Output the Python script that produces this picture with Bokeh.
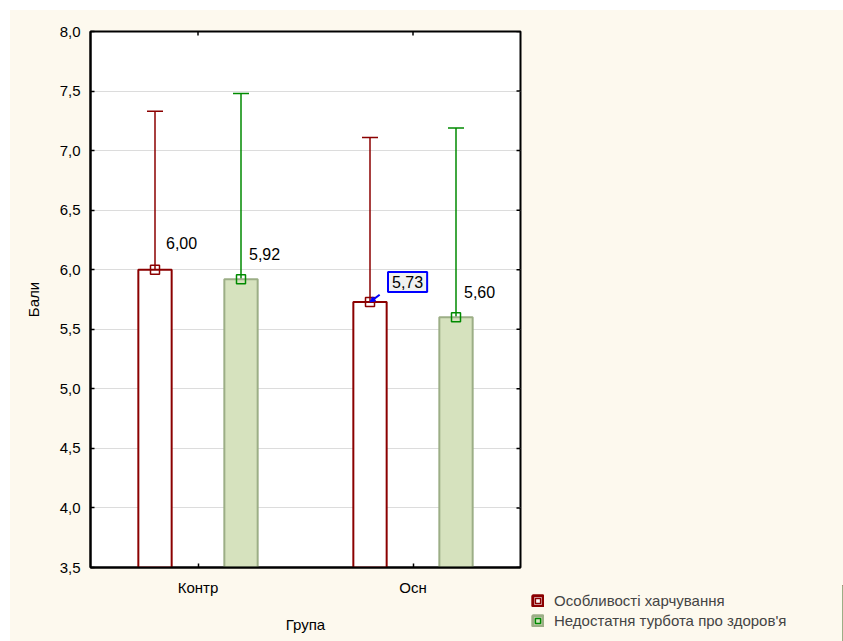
from bokeh.plotting import figure
from bokeh.layouts import row, column
from bokeh.models import (FactorRange, Range1d, FixedTicker, Spacer,
                          Whisker, TeeHead, ColumnDataSource, Legend, LegendItem, Label,
                          Arrow, NormalHead)
from bokeh.transform import dodge
from bokeh.core.properties import value
from bokeh.embed import file_html
from bokeh.resources import INLINE

# ---- data ----
groups = ["Контр", "Осн"]
series_names = ["Особливості харчування", "Недостатня турбота про здоров'я"]
mean_harch = [6.00, 5.73]
upper_harch = [7.33, 7.11]
lower_harch = [4.67, 4.35]
mean_turb = [5.92, 5.60]
upper_turb = [7.48, 7.19]
lower_turb = [4.35, 4.02]
y_ticks = [3.5, 4.0, 4.5, 5.0, 5.5, 6.0, 6.5, 7.0, 7.5, 8.0]
y_tick_labels = ["3,5", "4,0", "4,5", "5,0", "5,5", "6,0", "6,5", "7,0", "7,5", "8,0"]
x_title = "Група"
y_title = "Бали"

RED = "#8B0000"
GREEN = "#008A00"
GFILL = "#D6E2BE"
GEDGE = "#9CAE86"
CREAM = "#FDF9EE"
FONT = "Liberation Sans"

def fmt(v):
    return f"{v:.2f}".replace(".", ",")

src = ColumnDataSource(dict(
    group=groups,
    mean_h=mean_harch, up_h=upper_harch, lo_h=lower_harch,
    mean_t=mean_turb, up_t=upper_turb, lo_t=lower_turb,
    lab_h=[fmt(v) for v in mean_harch], lab_t=[fmt(v) for v in mean_turb],
))

p = figure(x_range=FactorRange(*groups, range_padding=0), y_range=Range1d(y_ticks[0], y_ticks[-1]),
           width=518, height=631, output_backend="svg", toolbar_location=None,
           min_border_left=80, min_border_right=8, min_border_top=21, min_border_bottom=74,
           background_fill_color="white", border_fill_color=CREAM)

off = 0.2
bw = 0.155
xh = dodge("group", -off, range=p.x_range)
xt = dodge("group", off, range=p.x_range)

bar_h = p.vbar(x=xh, top="mean_h", bottom=y_ticks[0], width=bw, source=src,
               fill_color="white", line_color=RED, line_width=2)
bar_t = p.vbar(x=xt, top="mean_t", bottom=y_ticks[0], width=bw, source=src,
               fill_color=GFILL, line_color=GEDGE, line_width=2)

wh = Whisker(base=xh, upper="up_h", lower="lo_h", source=src, line_color=RED, line_width=1.5,
             upper_head=TeeHead(size=16, line_color=RED, line_width=1.5),
             lower_head=TeeHead(size=16, line_color=RED, line_width=1.5))
wt = Whisker(base=xt, upper="up_t", lower="lo_t", source=src, line_color=GREEN, line_width=1.5,
             upper_head=TeeHead(size=16, line_color=GREEN, line_width=1.5),
             lower_head=TeeHead(size=16, line_color=GREEN, line_width=1.5))
p.add_layout(wh)
p.add_layout(wt)

mk_h = p.scatter(x=xh, y="mean_h", source=src, marker="square", size=9,
                 fill_color=None, line_color=RED, line_width=1.5)
mk_t = p.scatter(x=xt, y="mean_t", source=src, marker="square", size=9,
                 fill_color=None, line_color=GREEN, line_width=1.5)

# value labels
src_h0 = ColumnDataSource(dict(group=groups[:1], y=mean_harch[:1], t=[fmt(v) for v in mean_harch[:1]]))
p.text(x=xh, y="y", text="t", source=src_h0, x_offset=11, y_offset=-27,
       text_font=value(FONT), text_font_size="16px", text_baseline="middle", text_color="black")
p.text(x=xt, y="mean_t", text="lab_t", source=src, x_offset=8, y_offset=-25,
       text_font=value(FONT), text_font_size="16px", text_baseline="middle", text_color="black")

# boxed label for the second red point
i = 1
xb = groups.index(groups[i]) + 0.5 - off
lbl = Label(x=xb, y=mean_harch[i], text=fmt(mean_harch[i]), x_offset=18, y_offset=10,
            text_font=FONT, text_font_size="16px", text_color="black",
            border_line_color="blue", border_line_width=2, background_fill_color="#F0F0F0",
            padding=4)
p.add_layout(lbl)
p.add_layout(Arrow(x_start=xb + 0.045, y_start=mean_harch[i] + 0.06, x_end=xb, y_end=mean_harch[i],
                   line_color="blue", line_width=2,
                   end=NormalHead(size=5, fill_color="blue", line_color="blue")))

# axes
p.yaxis.ticker = FixedTicker(ticks=y_ticks)
p.yaxis.major_label_overrides = {t: l for t, l in zip(y_ticks, y_tick_labels)}
for ax in (p.xaxis[0], p.yaxis[0]):
    ax.major_tick_in = 4
    ax.major_tick_out = 0
    ax.minor_tick_line_color = None
    ax.axis_line_width = 2
    ax.major_tick_line_width = 1.5
    ax.major_label_text_font = FONT
    ax.major_label_text_font_size = "15px"
    ax.major_label_text_color = "black"
    ax.axis_label_text_font = FONT
    ax.axis_label_text_font_size = "15px"
    ax.axis_label_text_font_style = "normal"
    ax.axis_label_text_color = "black"
p.xaxis.axis_label = x_title
p.yaxis.axis_label = y_title
p.xaxis.major_label_standoff = 11
p.xaxis.axis_label_standoff = 17
p.yaxis.major_label_standoff = 10
p.yaxis.axis_label_standoff = 15

# inward ticks on the top and right frame edges (half of each dash is clipped by the frame)
n_groups = len(groups)
p.scatter(x=[n_groups] * len(y_ticks), y=y_ticks, marker="dash", size=8,
          line_color="black", line_width=1.5)
p.scatter(x=groups, y=[y_ticks[-1]] * n_groups, marker="dash", angle=1.5708, size=8,
          line_color="black", line_width=1.5)

p.xgrid.grid_line_color = None
p.ygrid.grid_line_color = "#DCDCDC"
p.ygrid.ticker = FixedTicker(ticks=y_ticks)
p.outline_line_color = "black"
p.outline_line_width = 2

# legend canvas (bottom right, same cream background)
q = figure(width=315, height=56, output_backend="svg", toolbar_location=None,
           x_range=Range1d(0, 1), y_range=Range1d(0, 1),
           x_axis_location=None, y_axis_location=None,
           min_border=0, background_fill_color=CREAM, border_fill_color=CREAM,
           outline_line_color=None)
q.grid.visible = False
# legend proxies: built from the data, lying outside q's visible range
lg_h_bar = q.vbar(x="mean_h", top="mean_h", width=0.1, source=src,
                  fill_color="white", line_color=RED, line_width=3)
lg_h_mk = q.scatter(x="mean_h", y="mean_h", source=src, marker="square",
                    fill_color=None, line_color=RED, line_width=1.5)
lg_t_bar = q.vbar(x="mean_t", top="mean_t", width=0.1, source=src,
                  fill_color=GFILL, line_color=GEDGE, line_width=3)
lg_t_mk = q.scatter(x="mean_t", y="mean_t", source=src, marker="square",
                    fill_color=None, line_color=GREEN, line_width=1.5)

legend = Legend(items=[LegendItem(label=series_names[0], renderers=[lg_h_bar, lg_h_mk]),
                       LegendItem(label=series_names[1], renderers=[lg_t_bar, lg_t_mk])],
                location=(3, 11), margin=0, padding=0, spacing=0,
                glyph_width=13, glyph_height=13, label_height=20, label_standoff=10,
                label_text_font=FONT, label_text_font_size="15px",
                border_line_color=None, background_fill_alpha=0)
q.add_layout(legend)

right_col = column(Spacer(width=315, height=575, styles={"background-color": CREAM}), q,
                   spacing=0, width=315, styles={"background-color": CREAM})
layout = row(p, right_col, margin=(10, 0, 0, 10), spacing=0,
             styles={"background-color": CREAM})
open("out.html", "w").write(file_html(layout, INLINE))
